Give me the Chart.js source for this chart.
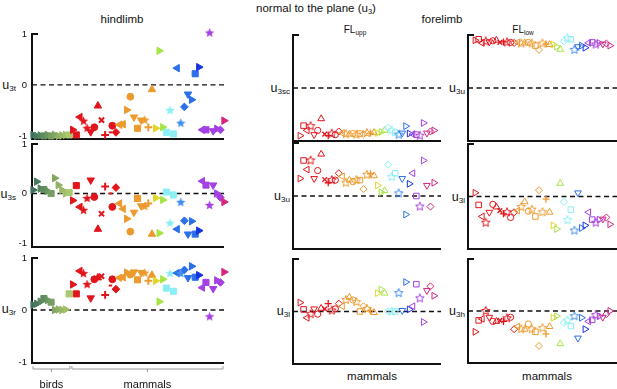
<!DOCTYPE html>
<html>
<head>
<meta charset="utf-8">
<script src="https://cdn.jsdelivr.net/npm/chart.js@4.4.1/dist/chart.umd.min.js"></script>
<style>
  body { margin: 0; width: 617px; height: 389px; position: relative; overflow: hidden; background: #fff;
         font-family: "Liberation Sans", Arial, sans-serif; color: #111; }
  canvas.p { position: absolute; }
  .t { position: absolute; white-space: nowrap; line-height: 1; transform: translate(-50%, -50%); }
  .yl { position: absolute; white-space: nowrap; line-height: 1; font-size: 12.5px; transform: translate(-100%, -50%); }
  sub { font-size: 0.65em; vertical-align: -0.3em; line-height: 0; }
</style>
</head>
<body>

<div class="t" style="left:316px;top:9px;font-size:11.5px">normal to the plane (u<sub>3</sub>)</div>
<div class="t" style="left:122px;top:20px;font-size:11.5px">hindlimb</div>
<div class="t" style="left:442px;top:20px;font-size:11.5px">forelimb</div>
<div class="t" style="left:355px;top:30px;font-size:10px">FL<sub>upp</sub></div>
<div class="t" style="left:523px;top:30px;font-size:10px">FL<sub>low</sub></div>

<div class="yl" style="left:16px;top:85px">u<sub>3t</sub></div>
<div class="yl" style="left:16px;top:194px">u<sub>3s</sub></div>
<div class="yl" style="left:16px;top:309px">u<sub>3r</sub></div>

<div class="yl" style="left:290px;top:88px">u<sub>3sc</sub></div>
<div class="yl" style="left:290px;top:196px">u<sub>3u</sub></div>
<div class="yl" style="left:290px;top:311px">u<sub>3l</sub></div>
<div class="yl" style="left:465px;top:88px">u<sub>3u</sub></div>
<div class="yl" style="left:465px;top:197px">u<sub>3l</sub></div>
<div class="yl" style="left:465px;top:311px">u<sub>3h</sub></div>

<div class="t" style="left:372px;top:377px;font-size:11.5px">mammals</div>
<div class="t" style="left:547px;top:377px;font-size:11.5px">mammals</div>

<script>
// colours of the groups
const R = '#e1161c', O = '#ec9a2e', Y = '#e3d62a', G = '#a6e545', C = '#8aeef4';
const B = '#2b6fe9', LB = '#3f8ff0', DB = '#1733e0', P = '#a441e3', M = '#d4257f';

// hindlimb: 11 birds then 43 mammals
const hlShape = ['tr','tr','tr','sq','tr','sq','tr','tr','tr','tr','sq',
  'tr','sq','tl','st','st','td','ci','tu','x','pl','da','ci','di',
  'tl','tl','tr','ci','td','sq','td','st','pl','tu',
  'tr', 'tr','tr', 'sq','st','sq',
  'tl','st','di','td','tr','sq','tr',
  'tl','sq','st','td','tr','di', 'tr'];
const hlColor = ['#3f6f5c','#4a7a5e','#55845f','#5f8c60','#6a9561','#769e62','#82a763','#8db064','#98b866','#a2bf68','#aac96f',
  R,R,R,R,R,R,R,R,R,R,R,R,R,
  O,O,O,O,O,O,O,O,O,O,
  Y, G,G, C,C,C,
  B,LB,B,B,B,B,DB,
  P,P,P,P,P,P, M];
const hlU3t = [-0.98,-1.0,-0.99,-1.0,-0.98,-1.0,-0.98,-1.0,-0.99,-0.98,-0.98,
  -0.88,-0.98,-0.63,-0.71,-0.85,-0.92,-0.83,-0.41,-0.69,-0.98,-0.93,-0.8,-0.93,
  -0.78,-0.77,-0.49,-0.23,-0.63,-0.85,-0.69,-0.69,-0.83,-0.09,
  -0.85, 0.67,-0.83, -0.93,-0.5,-0.96,
  0.33,-0.75,-0.43,-0.18,-0.29,0.22,0.35,
  -0.88,-0.88,1.02,-0.9,-0.86,-0.88, -0.7];
const hlU3s = [0.07,0.24,0.1,0.08,0.05,0.0,0.31,0.17,0.07,0.0,0.02,
  -0.14,0.16,-0.27,-0.34,-0.1,0.27,-0.07,-0.72,-0.41,0.14,0.0,-0.27,0.12,
  -0.2,-0.31,-0.51,-0.77,-0.38,-0.1,-0.25,-0.26,-0.2,-0.82,
  -0.09, -0.8,-0.13, 0.03,-0.6,-0.03,
  -0.72,-0.18,-0.55,-0.82,-0.56,-0.82,-0.75,
  0.25,0.17,-0.24,0.17,0.0,-0.08, -0.17];
const hlU3r = [0.1,0.12,0.16,0.22,0.19,0.15,0.0,0.01,0.0,0.01,0.31,
  0.49,0.31,0.75,0.7,0.49,0.23,0.59,0.62,0.65,0.29,0.47,0.59,0.4,
  0.62,0.63,0.72,0.68,0.73,0.58,0.72,0.71,0.56,0.67,
  0.56, 0.16,0.59, 0.42,0.7,0.36,
  0.71,0.7,0.77,0.62,0.84,0.63,0.67,
  0.43,0.53,-0.13,0.41,0.57,0.53, 0.73];

// forelimb: 39 mammals (open markers)
const flShape = ['tr','sq','tl','st','td','ci','tu','x','pl','st','ci','di',
  'tl','st','tu','ci','st','sq','di','st','pl','tu',
  'tr', 'tr','tu', 'di','st','sq',
  'st','td','tr','tr', 'tl','sq','st','tr', 'td','di','tr'];
const flColor = [R,R,R,R,R,R,R,R,R,R,R,R, O,O,O,O,O,O,O,O,O,O, Y, G,G, C,C,C, LB,B,B,DB, P,P,P,P, M,M,M];
const flUppU3sc = [-0.9,-0.71,-0.8,-0.72,-0.88,-0.8,-0.58,-0.87,-0.9,-0.86,-0.88,-0.82,
  -0.85,-0.87,-0.87,-0.86,-0.88,-0.86,-0.87,-0.85,-0.85,-0.84,
  -0.85, -0.83,-0.8, -0.75,-0.8,-0.84, -0.88,-0.85,-0.72,-0.86, -0.87,-0.88,-0.9,-0.66, -0.85,-0.82,-0.8];
const flUppU3u = [0.33,0.67,0.5,0.67,0.33,0.48,0.79,0.31,0.25,0.3,0.3,0.43,
  0.37,0.25,0.3,0.27,0.3,0.3,0.13,0.4,0.42,0.38,
  0.2, 0.07,0.1, 0.59,0.36,0.43, 0.05,0.33,-0.35,0.23, 0.43,0.0,-0.2,0.67, 0.2,-0.2,0.25];
const flUppU3l = [0.17,0.04,-0.12,-0.05,0.05,-0.05,0.06,0.05,0.15,0.02,0.05,0.15,
  0.1,0.22,0.27,0.22,0.18,0.0,0.1,0.05,0.02,-0.02,
  0.35, 0.42,0.35, 0.0,0.0,0.0, 0.35,0.02,0.56,0.04, 0.1,0.52,0.25,-0.2, 0.4,0.48,0.3];
const flLowU3u = [0.9,0.92,0.85,0.88,0.87,0.89,0.9,0.86,0.87,0.86,0.86,0.85,
  0.86,0.84,0.85,0.86,0.84,0.8,0.72,0.84,0.83,0.82,
  0.82, 0.78,0.73, 0.88,0.94,0.92, 0.72,0.78,0.8,0.76, 0.85,0.86,0.82,0.85, 0.83,0.84,0.8];
const flLowU3l = [0.07,-0.16,-0.38,-0.5,-0.3,-0.15,-0.2,-0.27,-0.33,-0.3,-0.4,-0.3,
  -0.27,-0.2,-0.1,-0.28,-0.25,-0.38,0.12,-0.3,-0.05,-0.3,
  -0.55, -0.62,0.25, -0.1,-0.45,-0.25, -0.65,0.07,-0.6,-0.55, -0.3,-0.44,-0.5,-0.44, -0.43,-0.4,-0.53];
const flLowU3h = [-0.4,-0.18,-0.15,0.0,-0.12,-0.2,-0.2,-0.18,-0.2,-0.14,-0.12,-0.35,
  -0.3,-0.35,-0.35,-0.25,-0.35,-0.4,-0.67,-0.33,-0.44,-0.3,
  -0.13, -0.1,-0.63, -0.23,-0.18,-0.29, -0.1,-0.52,-0.13,-0.35, -0.2,-0.17,-0.08,-0.1, -0.12,-0.06,0.0];

const yTicks = [1, 0, -1];
const groups = [{ label: 'birds', from: 0.7, to: 11.5 }, { label: 'mammals', from: 11.5, to: 54 }];

// marker shapes -> chart.js point styles
const styleOf = {
  tr: ['triangle', 90], tl: ['triangle', 270], td: ['triangle', 180], tu: ['triangle', 0],
  sq: ['rect', 0], ci: ['circle', 0], di: ['rectRot', 0], x: ['crossRot', 0], pl: ['cross', 0], da: ['dash', 0]
};
const radScale = { ci: 0.8, di: 0.9, x: 0.85, pl: 0.9, da: 0.8 };

function starImg(color, open, r) {
  const c = document.createElement('canvas');
  const s = Math.ceil(r * 2 + 3);
  c.width = c.height = s;
  const g = c.getContext('2d');
  g.beginPath();
  for (let i = 0; i < 10; i++) {
    const rr = i % 2 ? r * 0.45 : r;
    const a = -Math.PI / 2 + i * Math.PI / 5;
    g.lineTo(s / 2 + rr * Math.cos(a), s / 2 + rr * Math.sin(a));
  }
  g.closePath();
  if (open) { g.strokeStyle = color; g.lineWidth = 1; g.stroke(); }
  else { g.fillStyle = color; g.fill(); }
  return c;
}

function points(values, shapes, colors, open, size) {
  return {
    data: values.map((v, i) => ({ x: i + 1, y: v })),
    pointStyle: shapes.map((s, i) => s === 'st' ? starImg(colors[i], open, size * 1.15) : styleOf[s][0]),
    pointRotation: shapes.map(s => s === 'st' ? 0 : styleOf[s][1]),
    pointRadius: shapes.map(s => size * (radScale[s] || 1)),
    pointBackgroundColor: colors.map(c => open ? 'rgba(0,0,0,0)' : c),
    pointBorderColor: colors,
    pointBorderWidth: shapes.map(s => (s === 'x' || s === 'pl' || s === 'da') ? (open ? 1.3 : 2) : 1),
    showLine: false,
    clip: false
  };
}

// axis frame, tick numbers and the birds / mammals braces
const frame = {
  id: 'frame',
  beforeDatasetsDraw(chart, args, o) {
    const { ctx, chartArea: a, scales: { x, y } } = chart;
    ctx.save();
    ctx.strokeStyle = '#111';
    ctx.lineWidth = 2;
    ctx.beginPath();
    ctx.moveTo(a.left + 6, a.top);
    ctx.lineTo(a.left, a.top);
    ctx.lineTo(a.left, a.bottom);
    ctx.lineTo(a.right, a.bottom);
    ctx.stroke();
    if (o.ticks) {
      ctx.fillStyle = '#111';
      ctx.font = '9.5px "Liberation Sans", Arial, sans-serif';
      ctx.textAlign = 'right';
      ctx.textBaseline = 'middle';
      o.ticks.forEach(v => ctx.fillText(String(v), a.left - 5, y.getPixelForValue(v)));
    }
    if (o.groups) {
      const by = a.bottom + 6;
      ctx.strokeStyle = '#9a9a9a';
      ctx.lineWidth = 1;
      ctx.fillStyle = '#111';
      ctx.font = '11px "Liberation Sans", Arial, sans-serif';
      ctx.textAlign = 'center';
      ctx.textBaseline = 'middle';
      o.groups.forEach(gr => {
        const l = x.getPixelForValue(gr.from), r = x.getPixelForValue(gr.to), m = (l + r) / 2;
        ctx.beginPath();
        ctx.moveTo(l + 1, by - 3); ctx.lineTo(l + 1, by); ctx.lineTo(r - 1, by); ctx.lineTo(r - 1, by - 3);
        ctx.moveTo(m, by); ctx.lineTo(m, by + 3);
        ctx.stroke();
        ctx.fillText(gr.label, m, a.bottom + 22);
      });
    }
    ctx.restore();
  }
};

function panel(rect, m, xmin, xmax, ymin, pts, extra) {
  const [x0, y0, x1, y1] = rect;
  const cv = document.createElement('canvas');
  cv.className = 'p';
  cv.width = x1 - x0 + m[0] + m[2];
  cv.height = y1 - y0 + m[1] + m[3];
  cv.style.left = (x0 - m[0]) + 'px';
  cv.style.top = (y0 - m[1]) + 'px';
  document.body.appendChild(cv);
  new Chart(cv.getContext('2d'), {
    type: 'scatter',
    data: {
      datasets: [pts, {
        data: [{ x: xmin, y: 0 }, { x: xmax, y: 0 }],
        showLine: true, borderColor: '#111', borderWidth: 1.3, borderDash: [5, 3.5], pointRadius: 0
      }]
    },
    options: {
      responsive: false, animation: false, events: [],
      layout: { padding: { left: m[0], top: m[1], right: m[2], bottom: m[3] } },
      scales: {
        x: { type: 'linear', display: false, min: xmin, max: xmax },
        y: { display: false, min: ymin, max: 1 }
      },
      plugins: { legend: { display: false }, tooltip: { enabled: false }, frame: extra || {} }
    },
    plugins: [frame]
  });
}

// hindlimb column
panel([32, 34, 224, 139], [32, 8, 8, 8], 0.7, 54, -1.06, points(hlU3t, hlShape, hlColor, false, 4.3), { ticks: yTicks });
panel([32, 144, 224, 247], [32, 8, 8, 8], 0.7, 54, -1.08, points(hlU3s, hlShape, hlColor, false, 4.3), { ticks: yTicks });
panel([32, 258, 224, 363], [32, 8, 8, 26], 0.7, 54, -1.02, points(hlU3r, hlShape, hlColor, false, 4.3), { ticks: yTicks, groups: groups });

// forelimb, upper segment
panel([293, 35, 441, 141], [8, 8, 8, 8], -1, 41, -1, points(flUppU3sc, flShape, flColor, true, 3.9));
panel([293, 143, 441, 249], [8, 8, 8, 8], -1, 41, -1, points(flUppU3u, flShape, flColor, true, 3.9));
panel([293, 259, 441, 364], [8, 8, 8, 8], -1, 41, -1, points(flUppU3l, flShape, flColor, true, 3.9));

// forelimb, lower segment
panel([468, 35, 617, 141], [8, 8, 8, 8], -1, 41, -1, points(flLowU3u, flShape, flColor, true, 3.9));
panel([468, 144, 617, 249], [8, 8, 8, 8], -1, 41, -1, points(flLowU3l, flShape, flColor, true, 3.9));
panel([468, 259, 617, 363], [8, 8, 8, 8], -1, 41, -1, points(flLowU3h, flShape, flColor, true, 3.9));
</script>
</body>
</html>
